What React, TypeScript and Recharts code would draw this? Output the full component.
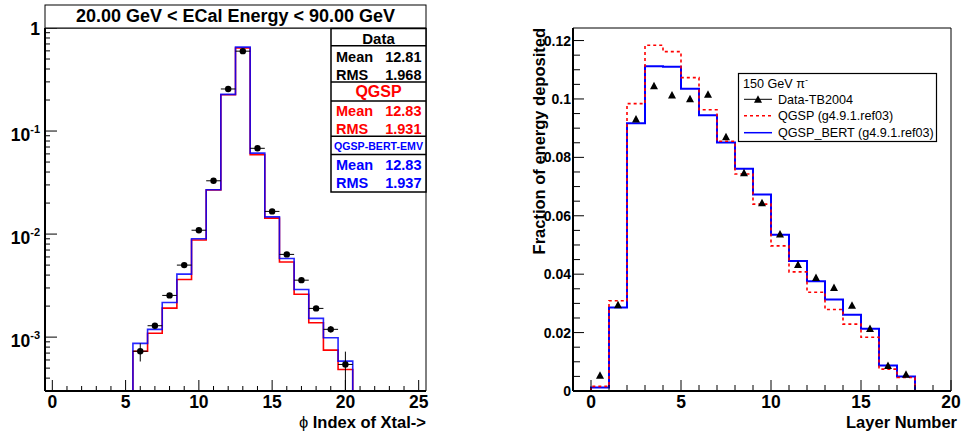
import React from 'react';
import { ComposedChart, Line, Scatter, XAxis, YAxis, ErrorBar, ReferenceArea } from 'recharts';

const FONT = '"Liberation Sans", Arial, Helvetica, sans-serif';
const RED = '#ff0000';
const BLUE = '#0000ff';

// left pad: phi index of crystal, log scale
const phiRange = [-0.5, 25.5];
const phiFloor = 3e-4;
const phiTop = 1;
const phiBins = [6, 7, 8, 9, 10, 11, 12, 13, 14, 15, 16, 17, 18, 19, 20];
const phiData = [7.3e-4, 1.29e-3, 2.54e-3, 5.0e-3, 1.09e-2, 3.29e-2, 0.256, 0.596, 0.068, 0.0166, 6.35e-3, 3.57e-3, 1.9e-3, 1.19e-3, 5.43e-4];
const phiDataErrLow = [1.5e-4, 0, 0, 0, 0, 0, 0, 0, 0, 0, 0, 0, 0, 8e-5, 2.43e-4];
const phiDataErrHigh = [1.4e-4, 0, 0, 0, 0, 0, 0, 0, 0, 0, 0, 0, 0, 9e-5, 1.8e-4];
const phiQgsp = [7.3e-4, 1.09e-3, 1.91e-3, 3.63e-3, 8.75e-3, 2.68e-2, 0.225, 0.64, 0.059, 0.0143, 5.35e-3, 2.61e-3, 1.38e-3, 7.48e-4, 4.85e-4];
const phiBert = [8.7e-4, 1.19e-3, 2.17e-3, 4.09e-3, 9.0e-3, 2.69e-2, 0.227, 0.652, 0.061, 0.0147, 5.8e-3, 2.9e-3, 1.52e-3, 9.85e-4, 5.85e-4];
const phiXTicks = [0, 1, 2, 3, 4, 5, 6, 7, 8, 9, 10, 11, 12, 13, 14, 15, 16, 17, 18, 19, 20, 21, 22, 23, 24, 25];
const phiDecades = [1e-4, 1e-3, 1e-2, 1e-1];
const phiMantissas = [1, 2, 3, 4, 5, 6, 7, 8, 9];
const phiYTicks = [
  ...phiDecades.flatMap((d) => phiMantissas.map((m) => m * d)).filter((v) => v > 3.5e-4),
  1,
];

// right pad: longitudinal profile
const layerRange = [-1, 20];
const layerTop = 0.1243;
const layerCentres = [0.5, 1.5, 2.5, 3.5, 4.5, 5.5, 6.5, 7.5, 8.5, 9.5, 10.5, 11.5, 12.5, 13.5, 14.5, 15.5, 16.5, 17.5];
const layerData = [0.0054, 0.0295, 0.0931, 0.1045, 0.1014, 0.1001, 0.1016, 0.0871, 0.0747, 0.0645, 0.0538, 0.0433, 0.0389, 0.0354, 0.0294, 0.0214, 0.0087, 0.0057];
const layerQgsp = [0.0016, 0.0309, 0.0984, 0.1184, 0.1162, 0.1073, 0.0963, 0.0855, 0.0743, 0.064, 0.0497, 0.0408, 0.0338, 0.0279, 0.0229, 0.0184, 0.0075, 0.0046];
const layerBert = [0.0012, 0.0286, 0.0917, 0.1112, 0.111, 0.1035, 0.0944, 0.0851, 0.0761, 0.0673, 0.0535, 0.0445, 0.0376, 0.0313, 0.0261, 0.0213, 0.0087, 0.005];
const layerXTicks = [-1, 0, 1, 2, 3, 4, 5, 6, 7, 8, 9, 10, 11, 12, 13, 14, 15, 16, 17, 18, 19, 20];
const layerYTicks = [0, 0.005, 0.01, 0.015, 0.02, 0.025, 0.03, 0.035, 0.04, 0.045, 0.05, 0.055, 0.06, 0.065, 0.07, 0.075, 0.08, 0.085, 0.09, 0.095, 0.1, 0.105, 0.11, 0.115, 0.12];
const layerYLabels: Record<string, string> = { '0': '0', '0.02': '0.02', '0.04': '0.04', '0.06': '0.06', '0.08': '0.08', '0.1': '0.1', '0.12': '0.12' };

type Pt = { x: number; y: number };

const histSteps = (centres: number[], values: number[], range: number[], floor: number): Pt[] => {
  const pts: Pt[] = [{ x: range[0], y: floor }];
  centres.forEach((c, i) => pts.push({ x: c - 0.5, y: values[i] }));
  const last = centres[centres.length - 1] + 0.5;
  pts.push({ x: last, y: floor });
  if (last < range[1]) pts.push({ x: range[1], y: floor });
  return pts;
};

const phiPoints = phiBins.map((x, i) => ({ x, y: phiData[i], ex: 0.5, ey: [phiDataErrLow[i], phiDataErrHigh[i]] }));
const layerPoints = layerCentres.map((x, i) => ({ x, y: layerData[i] }));

const PhiXTick = (props: any) => {
  const { x, y, payload } = props;
  const v = payload.value;
  const major = v % 5 === 0;
  return (
    <g>
      <line x1={x} x2={x} y1={y} y2={y - (major ? 11 : 5)} stroke="#000" />
      {major && (
        <text x={x} y={y + 17} textAnchor="middle" fontFamily={FONT} fontWeight="bold" fontSize={17.5} fill="#000">
          {v}
        </text>
      )}
    </g>
  );
};

const PhiYTick = (props: any) => {
  const { x, y, payload } = props;
  const v = payload.value;
  const exp = Math.round(Math.log10(v));
  const major = Math.abs(Math.log10(v) - exp) < 1e-6;
  return (
    <g>
      <line x1={x} x2={x + (major ? 12 : 5)} y1={y} y2={y} stroke="#000" />
      {major && exp === 0 && (
        <text x={x - 5} y={y + 6.5} textAnchor="end" fontFamily={FONT} fontWeight="bold" fontSize={17.5} fill="#000">
          1
        </text>
      )}
      {major && exp < 0 && (
        <text x={x - 5} y={y + 10} textAnchor="end" fontFamily={FONT} fontWeight="bold" fontSize={17.5} fill="#000">
          10
          <tspan dy={-8} fontSize={11}>
            {String(exp)}
          </tspan>
        </text>
      )}
    </g>
  );
};

const LayerXTick = (props: any) => {
  const { x, y, payload } = props;
  const v = payload.value;
  const major = v % 5 === 0;
  return (
    <g>
      <line x1={x} x2={x} y1={y} y2={y - (major ? 11 : 6)} stroke="#000" />
      {major && (
        <text x={x} y={y + 17} textAnchor="middle" fontFamily={FONT} fontWeight="bold" fontSize={17.5} fill="#000">
          {v}
        </text>
      )}
    </g>
  );
};

const LayerYTick = (props: any) => {
  const { x, y, payload } = props;
  const label = layerYLabels[String(payload.value)];
  return (
    <g>
      <line x1={x} x2={x + (label ? 11 : 7)} y1={y} y2={y} stroke="#000" />
      {label && (
        <text x={x - 2} y={y + 5} textAnchor="end" fontFamily={FONT} fontWeight="bold" fontSize={14} fill="#000">
          {label}
        </text>
      )}
    </g>
  );
};

const Dot = (p: any) => <circle cx={p.cx} cy={p.cy} r={3.2} fill="#000" />;
const Tri = (p: any) => (
  <polygon points={`${p.cx - 4},${p.cy + 3.5} ${p.cx + 4},${p.cy + 3.5} ${p.cx},${p.cy - 4}`} fill="#000" />
);

const statRows = [
  { head: 'Data', mean: '12.81', rms: '1.968', color: '#000' },
  { head: 'QGSP', mean: '12.83', rms: '1.931', color: RED },
  { head: 'QGSP-BERT-EMV', mean: '12.83', rms: '1.937', color: BLUE },
];

const App = () => {
  return (
    <div style={{ position: 'absolute', left: 0, top: 0, width: 961, height: 434, background: '#fff' }}>
      <div style={{ position: 'absolute', left: 0, top: 0 }}>
        <ComposedChart width={480} height={434} margin={{ top: 28, right: 54, bottom: 0, left: 0 }}>
          <XAxis
            dataKey="x"
            type="number"
            domain={phiRange}
            ticks={phiXTicks}
            interval={0}
            allowDataOverflow
            height={43}
            tickSize={0}
            tickMargin={0}
            tickLine={false}
            tick={<PhiXTick />}
            axisLine={{ stroke: '#000', strokeWidth: 2 }}
          />
          <YAxis
            dataKey="y"
            type="number"
            scale="log"
            domain={[phiFloor, phiTop]}
            ticks={phiYTicks}
            interval={0}
            allowDataOverflow
            width={45}
            tickSize={0}
            tickMargin={0}
            tickLine={false}
            tick={<PhiYTick />}
            axisLine={{ stroke: '#000', strokeWidth: 2 }}
          />
          <ReferenceArea x1={phiRange[0]} x2={phiRange[1]} y1={phiFloor} y2={phiTop} fill="none" stroke="#000" strokeWidth={1} />
          <Line
            data={histSteps(phiBins, phiQgsp, phiRange, phiFloor)}
            dataKey="y"
            type="stepAfter"
            stroke={RED}
            strokeWidth={1.6}
            dot={false}
            isAnimationActive={false}
          />
          <Line
            data={histSteps(phiBins, phiBert, phiRange, phiFloor)}
            dataKey="y"
            type="stepAfter"
            stroke={BLUE}
            strokeOpacity={0.85}
            strokeWidth={1.6}
            dot={false}
            isAnimationActive={false}
          />
          <Scatter data={phiPoints} dataKey="y" shape={Dot} isAnimationActive={false}>
            <ErrorBar dataKey="ex" direction="x" width={0} stroke="#000" strokeWidth={1} />
            <ErrorBar dataKey="ey" direction="y" width={0} stroke="#000" strokeWidth={1} />
          </Scatter>
        </ComposedChart>
      </div>

      <div style={{ position: 'absolute', left: 480, top: 0 }}>
        <ComposedChart width={481} height={434} margin={{ top: 28, right: 10, bottom: 0, left: 0 }}>
          <XAxis
            dataKey="x"
            type="number"
            domain={layerRange}
            ticks={layerXTicks}
            interval={0}
            allowDataOverflow
            height={43}
            tickSize={0}
            tickMargin={0}
            tickLine={false}
            tick={<LayerXTick />}
            axisLine={{ stroke: '#000', strokeWidth: 2 }}
          />
          <YAxis
            dataKey="y"
            type="number"
            domain={[0, layerTop]}
            ticks={layerYTicks}
            interval={0}
            allowDataOverflow
            width={93}
            tickSize={0}
            tickMargin={0}
            tickLine={false}
            tick={<LayerYTick />}
            axisLine={{ stroke: '#000', strokeWidth: 2 }}
          />
          <ReferenceArea x1={layerRange[0]} x2={layerRange[1]} y1={0} y2={layerTop} fill="none" stroke="#000" strokeWidth={1} />
          <Line
            data={histSteps(layerCentres, layerBert, layerRange, 0)}
            dataKey="y"
            type="stepAfter"
            stroke={BLUE}
            strokeWidth={2}
            dot={false}
            isAnimationActive={false}
          />
          <Line
            data={histSteps(layerCentres, layerQgsp, layerRange, 0)}
            dataKey="y"
            type="stepAfter"
            stroke={RED}
            strokeWidth={1.6}
            strokeDasharray="3 3"
            dot={false}
            isAnimationActive={false}
          />
          <Scatter data={layerPoints} dataKey="y" shape={Tri} isAnimationActive={false} />
        </ComposedChart>
      </div>

      <svg width={961} height={434} style={{ position: 'absolute', left: 0, top: 0, pointerEvents: 'none' }} fontFamily={FONT}>
        {/* left title box */}
        <rect x={45} y={5} width={381} height={23} fill="#fff" stroke="#000" strokeWidth={1} />
        <text x={235.5} y={22} textAnchor="middle" fontWeight="bold" fontSize={18}>
          20.00 GeV &lt; ECal Energy &lt; 90.00 GeV
        </text>

        {/* stats boxes */}
        <rect x={331} y={28.5} width={95} height={163.5} fill="#fff" stroke="#000" strokeWidth={1.5} />
        {[45.8, 82, 101, 136.3, 154.5].map((y) => (
          <line key={y} x1={331} x2={426} y1={y} y2={y} stroke="#000" strokeWidth={1.5} />
        ))}
        {statRows.map((r, i) => {
          const top = [28.5, 82, 136.3][i];
          return (
            <g key={r.head} fill={r.color} fontWeight="bold">
              {i === 2 ? (
                <text x={378.5} y={top + 13.8} textAnchor="middle" fontSize={11} textLength={89} lengthAdjust="spacingAndGlyphs">
                  {r.head}
                </text>
              ) : (
                <text x={378.5} y={top + 15} textAnchor="middle" fontSize={i === 1 ? 16 : 15}>
                  {r.head}
                </text>
              )}
              <text x={336} y={top + 33.5} fontSize={14.5}>Mean</text>
              <text x={421.5} y={top + 33.5} textAnchor="end" fontSize={14.5}>{r.mean}</text>
              <text x={336} y={top + 51.5} fontSize={14.5}>RMS</text>
              <text x={421.5} y={top + 51.5} textAnchor="end" fontSize={14.5}>{r.rms}</text>
            </g>
          );
        })}

        {/* left x title */}
        <text x={426} y={427.5} textAnchor="end" fontWeight="bold" fontSize={16.5}>
          <tspan fontWeight="normal">ϕ</tspan> Index of Xtal-&gt;
        </text>

        {/* right axis titles */}
        <text x={957} y={427.5} textAnchor="end" fontWeight="bold" fontSize={16.5}>
          Layer Number
        </text>
        <text transform="translate(545,28) rotate(-90)" textAnchor="end" fontWeight="bold" fontSize={16.5}>
          Fraction of energy deposited
        </text>

        {/* right legend */}
        <rect x={738.5} y={73.5} width={198} height={68} fill="#fff" stroke="#000" strokeWidth={1.2} />
        <text x={743} y={88} fontSize={12.6}>
          150 GeV π<tspan dy={-5} fontSize={9}>-</tspan>
        </text>
        <line x1={744} x2={772} y1={99.3} y2={99.3} stroke="#000" strokeWidth={1} />
        <Tri cx={758} cy={99.3} />
        <text x={778} y={104} fontSize={12.6}>Data-TB2004</text>
        <line x1={744} x2={772} y1={115.7} y2={115.7} stroke={RED} strokeWidth={1.5} strokeDasharray="3 3" />
        <text x={778} y={120.3} fontSize={12.6}>QGSP (g4.9.1.ref03)</text>
        <line x1={744} x2={772} y1={132.7} y2={132.7} stroke={BLUE} strokeWidth={1.5} />
        <text x={778} y={137.3} fontSize={12.6}>QGSP_BERT (g4.9.1.ref03)</text>
      </svg>
    </div>
  );
};

export default App;
